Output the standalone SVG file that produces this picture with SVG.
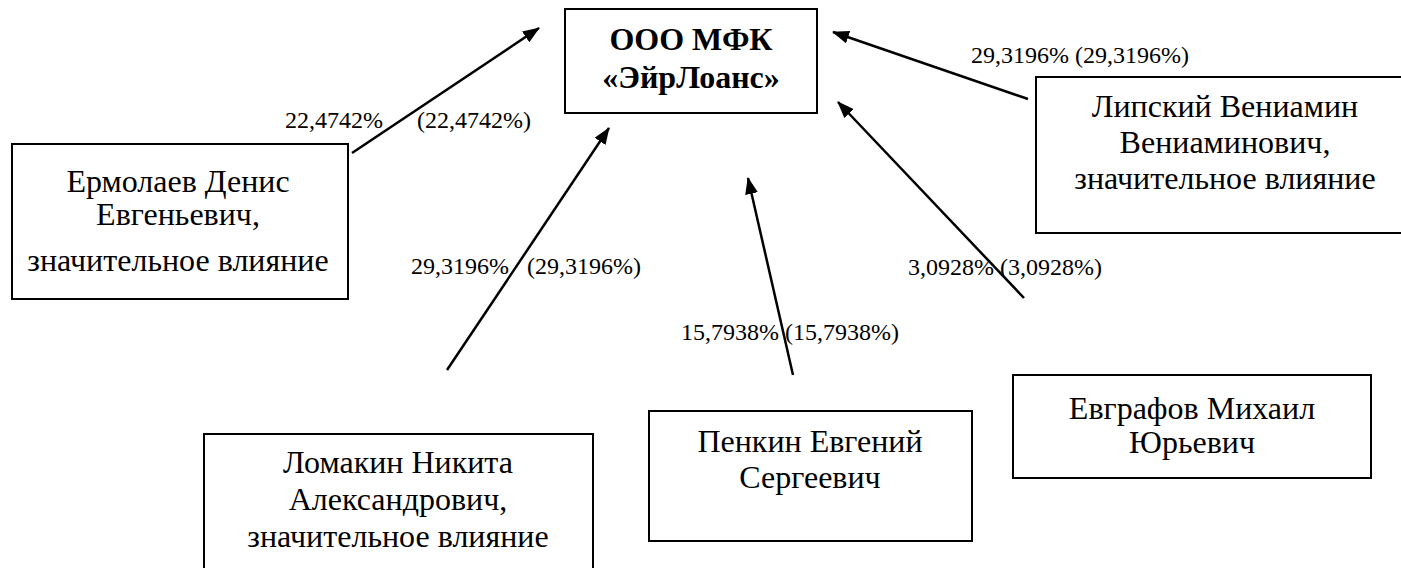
<svg xmlns="http://www.w3.org/2000/svg" width="1401" height="568" viewBox="0 0 1401 568">
<style>
.box{fill:#fff;stroke:#000;stroke-width:2}
.t{font-size:32px;fill:#000;text-anchor:middle}
.b{font-weight:bold}
.lbl{font-size:24px;fill:#000}
.edge{stroke:#000;stroke-width:2.5;fill:none;marker-end:url(#arr)}
</style>
<defs>
<marker id="arr" markerUnits="userSpaceOnUse" markerWidth="17" markerHeight="13" refX="16" refY="6.5" orient="auto">
<path d="M0,0 L17,6.5 L0,13 z" fill="#000"/>
</marker>
</defs>
<rect width="1401" height="568" fill="#fff"/>
<g font-family="'Times New Roman', 'Liberation Serif', Tinos, 'Noto Serif', 'DejaVu Serif', FreeSerif, Times, serif">
<g id="company">
<rect class="box" x="565" y="9" width="252" height="104"/>
<text class="t b" x="691" y="50">ООО МФК</text>
<text class="t b" x="691" y="88">«ЭйрЛоанс»</text>
</g>

<g id="ermolaev">
<rect class="box" x="12" y="144" width="336" height="155"/>
<text class="t" x="178" y="192">Ермолаев Денис</text>
<text class="t" x="178" y="225">Евгеньевич,</text>
<text class="t" x="178" y="271">значительное влияние</text>
</g>

<g id="lipsky">
<rect class="box" x="1036" y="77" width="380" height="156"/>
<text class="t" x="1225" y="117">Липский Вениамин</text>
<text class="t" x="1225" y="153">Вениаминович,</text>
<text class="t" x="1225" y="189">значительное влияние</text>
</g>

<g id="lomakin">
<rect class="box" x="204" y="434" width="389" height="150"/>
<text class="t" x="398" y="473">Ломакин Никита</text>
<text class="t" x="398" y="510">Александрович,</text>
<text class="t" x="398" y="547">значительное влияние</text>
</g>

<g id="penkin">
<rect class="box" x="649" y="411" width="323" height="130"/>
<text class="t" x="810" y="452">Пенкин Евгений</text>
<text class="t" x="810" y="488">Сергеевич</text>
</g>

<g id="evgrafov">
<rect class="box" x="1013" y="375" width="358" height="103"/>
<text class="t" x="1192" y="419">Евграфов Михаил</text>
<text class="t" x="1192" y="453">Юрьевич</text>
</g>

<g id="connectors">
<path class="edge" d="M352,153 L539,28"/>
<path class="edge" d="M447,370 L609,128"/>
<path class="edge" d="M793,375 L748,178"/>
<path class="edge" d="M1024,298 L838,102"/>
<path class="edge" d="M1028,99 L833,32"/>
</g>

<g id="labels">
<text class="lbl" x="285" y="128">22,4742%</text>
<text class="lbl" x="417" y="128">(22,4742%)</text>
<text class="lbl" x="411" y="274">29,3196%</text>
<text class="lbl" x="527" y="274">(29,3196%)</text>
<text class="lbl" x="971" y="63">29,3196% (29,3196%)</text>
<text class="lbl" x="908" y="275">3,0928% (3,0928%)</text>
<text class="lbl" x="681" y="340">15,7938% (15,7938%)</text>
</g>
</g>
</svg>
